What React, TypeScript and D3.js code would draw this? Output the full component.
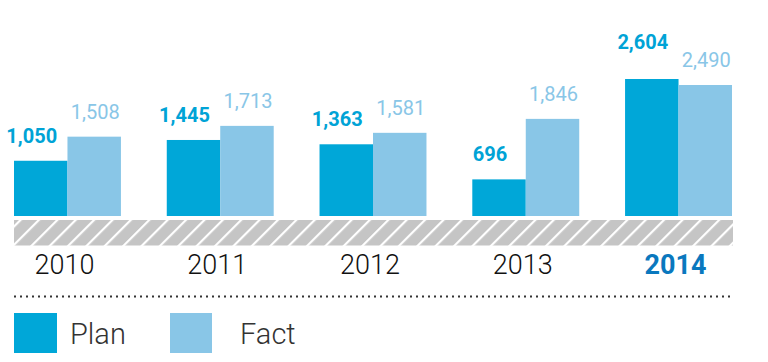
import React from 'react';
import * as d3 from 'd3';

const years = ['2010', '2011', '2012', '2013', '2014'];
const planValues = [1050, 1445, 1363, 696, 2604];
const factValues = [1508, 1713, 1581, 1846, 2490];
const seriesNames = ['Plan', 'Fact'];
const highlightYear = '2014';

const PLAN_COLOR = '#00a7d8';
const FACT_COLOR = '#89c6e7';
const FONT = 'Roboto, "DejaVu Sans", sans-serif';

const fmt = d3.format(',');

export default function App() {
  const width = 768;
  const height = 362;
  const baseY = 216;

  const x = d3.scaleBand<string>()
    .domain(years)
    .range([14, 732])
    .paddingInner(0.3)
    .paddingOuter(0);

  const inner = d3.scaleBand<string>()
    .domain(seriesNames)
    .range([0, x.bandwidth()])
    .padding(0);

  const y = d3.scaleLinear()
    .domain([0, d3.max([...planValues, ...factValues]) as number])
    .range([baseY, 79]);

  const labelGap = 18;

  return (
    <svg width={width} height={height} style={{ position: 'absolute', left: 0, top: 0 }}>
      <defs>
        <pattern id="hatch" patternUnits="userSpaceOnUse" width="13" height="13" patternTransform="rotate(45)">
          <rect width="13" height="13" fill="#c5c5c5" />
          <rect x="0" y="0" width="2.2" height="13" fill="#ffffff" />
        </pattern>
      </defs>

      {years.map((yr, i) => {
        const gx = x(yr) as number;
        const px = gx + (inner('Plan') as number);
        const fx = gx + (inner('Fact') as number);
        const bw = inner.bandwidth();
        const planTop = y(planValues[i]);
        const factTop = y(factValues[i]);
        const factLabelY = factTop - labelGap;
        let planLabelY = planTop - labelGap;
        if (planValues[i] > factValues[i]) planLabelY = Math.min(planLabelY, factLabelY - labelGap);
        return (
          <g key={yr}>
            <rect x={px} y={planTop} width={bw} height={baseY - planTop} fill={PLAN_COLOR} />
            <rect x={fx} y={factTop} width={bw} height={baseY - factTop} fill={FACT_COLOR} />
            <text x={px + bw / 2 - 9} y={planLabelY} textAnchor="middle" fontFamily={FONT}
              fontWeight={700} fontSize={20} fill="#00a3d6">{fmt(planValues[i])}</text>
            <text x={fx + bw / 2 + 1} y={factLabelY} textAnchor="middle" fontFamily={FONT}
              fontWeight={400} fontSize={20} fill={FACT_COLOR}>{fmt(factValues[i])}</text>
            <text x={gx + x.bandwidth() / 2 - 3} y={273.5} textAnchor="middle" fontFamily={FONT}
              fontWeight={yr === highlightYear ? 700 : 300} fontSize={27}
              fill={yr === highlightYear ? '#0a78be' : '#111111'}>{yr}</text>
          </g>
        );
      })}

      <rect x={14} y={220} width={719} height={25.5} fill="url(#hatch)" />

      <line x1={14} x2={733} y1={296.5} y2={296.5} stroke="#333" strokeWidth={2}
        strokeDasharray="2,4" />

      <g>
        <rect x={14} y={313} width={43} height={40} fill={PLAN_COLOR} />
        <text x={70} y={343.5} fontFamily={FONT} fontWeight={300} fontSize={29} fill="#333">Plan</text>
        <rect x={170} y={313} width={42} height={40} fill={FACT_COLOR} />
        <text x={240} y={343.5} fontFamily={FONT} fontWeight={300} fontSize={29} fill="#333">Fact</text>
      </g>
    </svg>
  );
}
